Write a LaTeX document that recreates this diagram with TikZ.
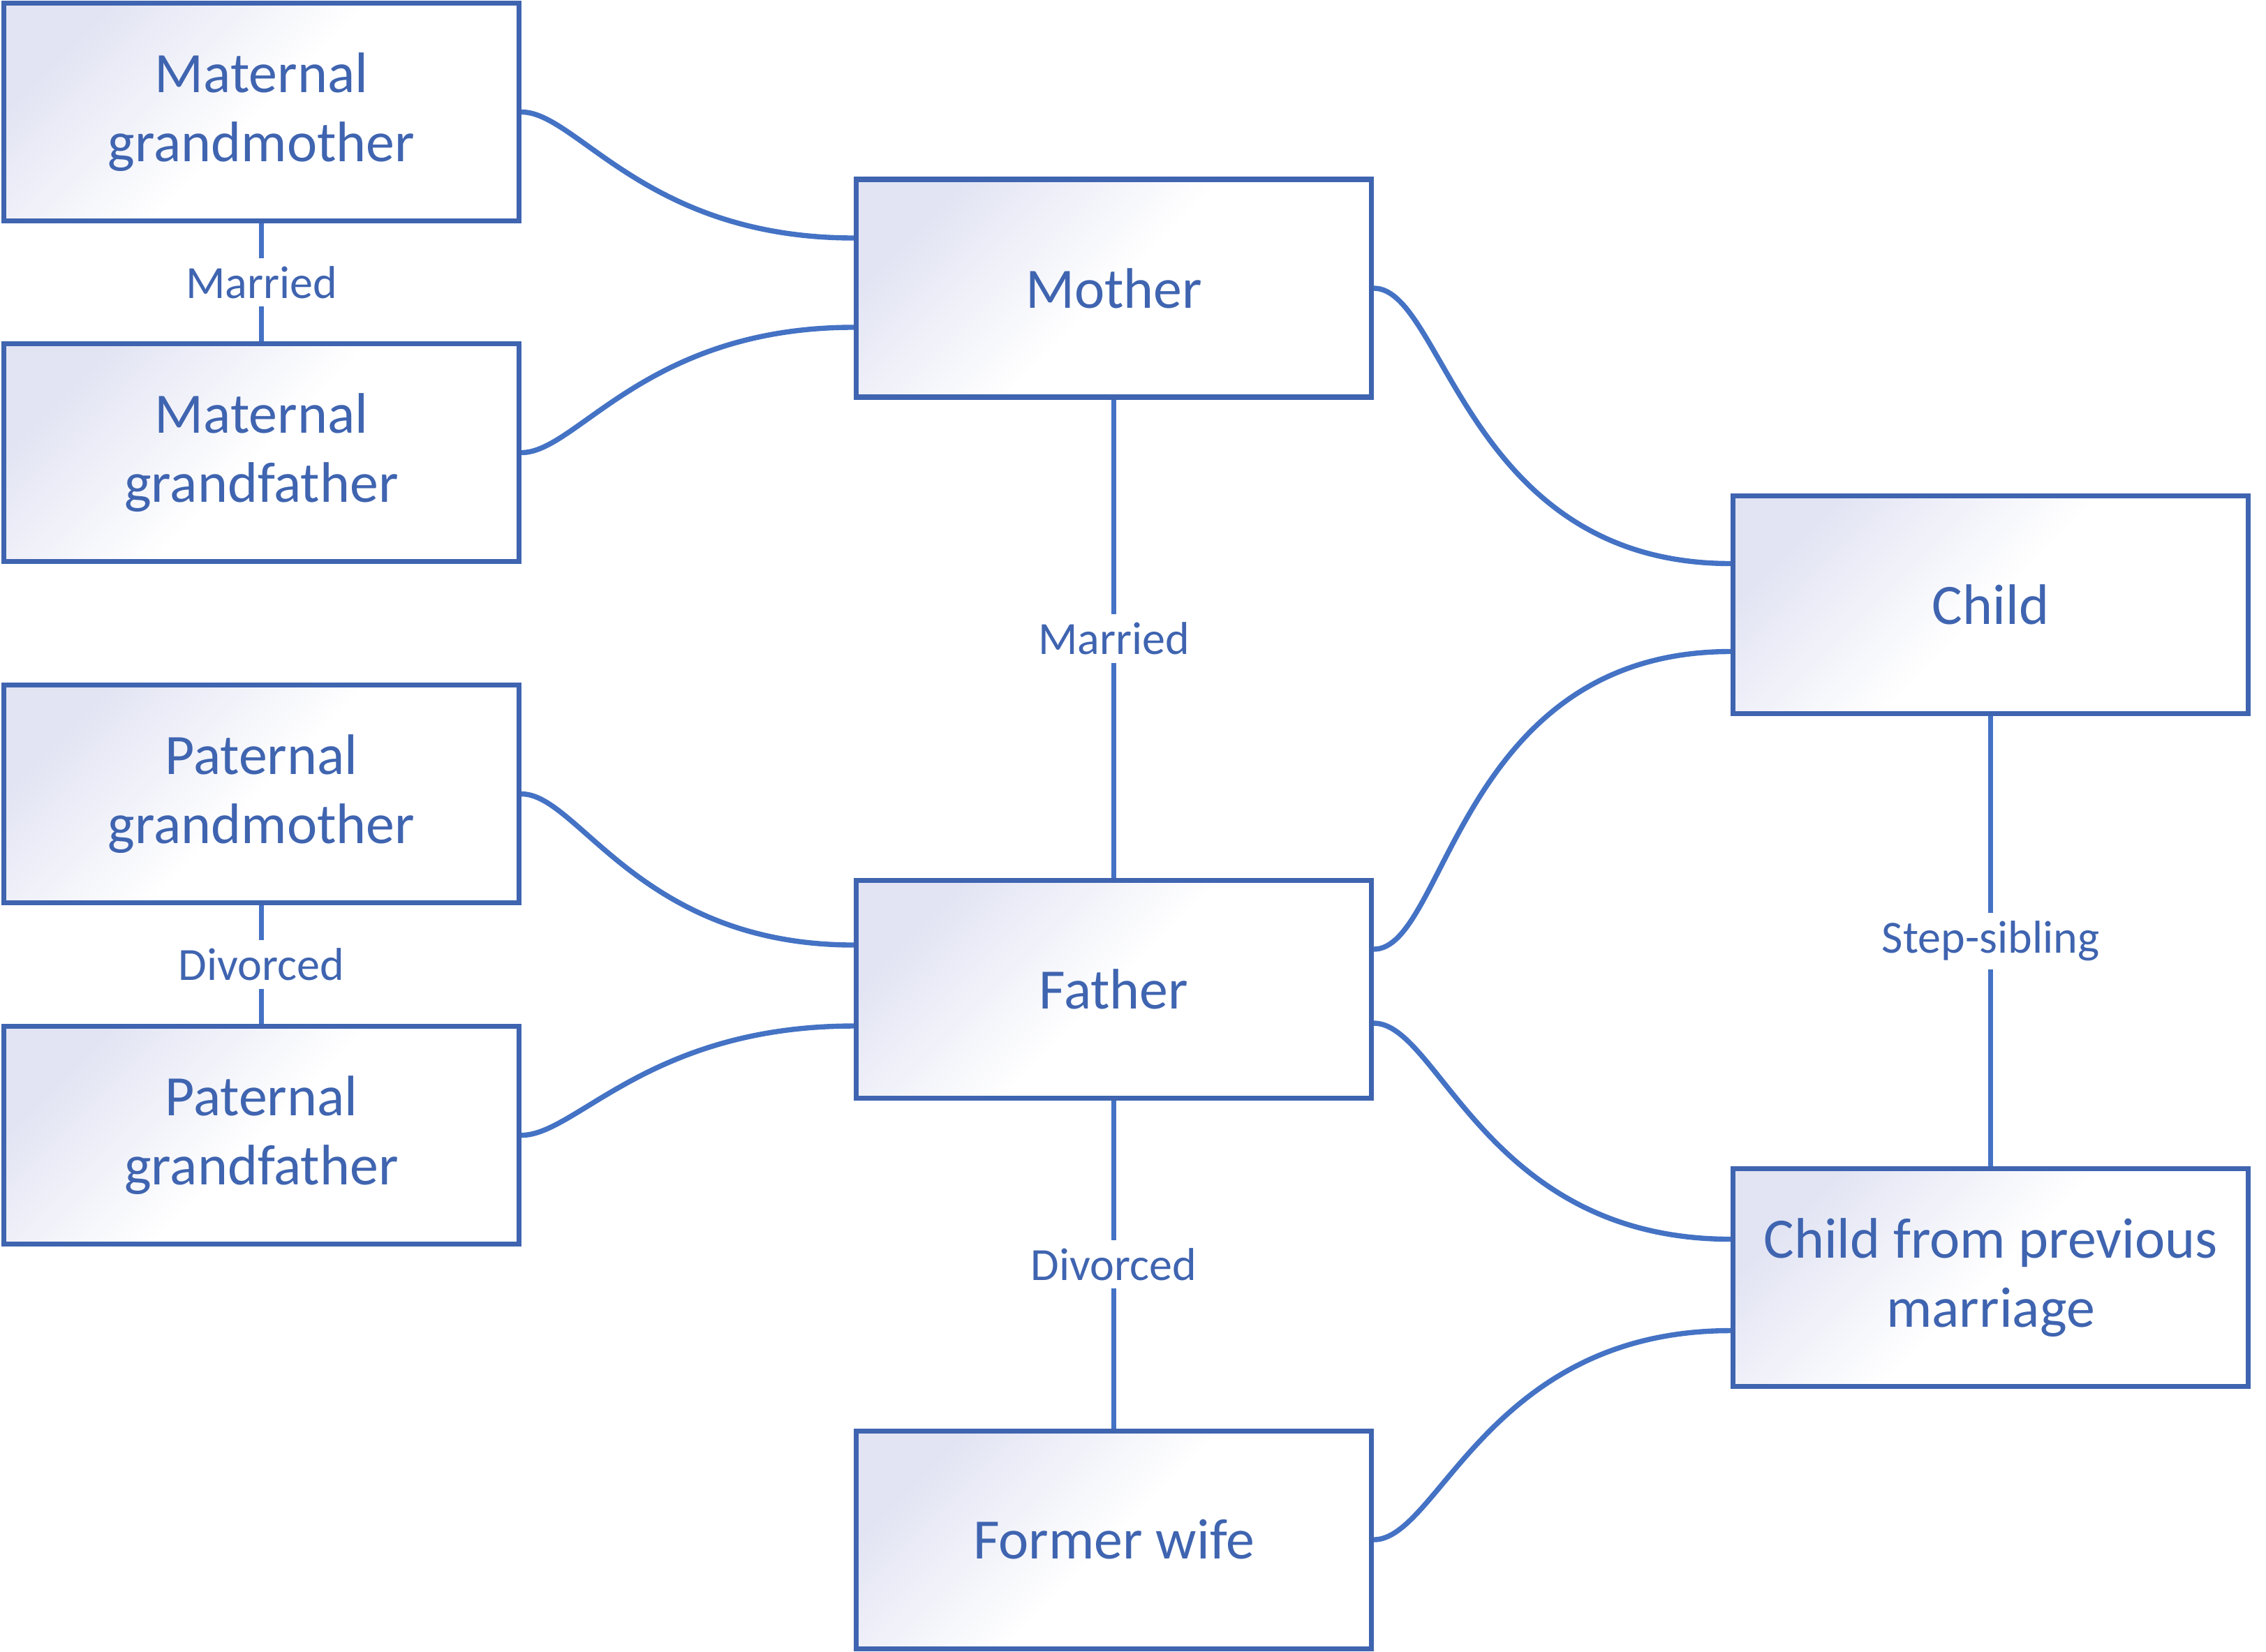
\documentclass[tikz,border=0pt]{standalone}
\usepackage{fontspec}
\setmainfont{Carlito}
\usepackage{xcolor}
\usepackage{tikz}
\usetikzlibrary{positioning}

\definecolor{boxblue}{RGB}{63,100,176}
\definecolor{lineblue}{RGB}{68,114,196}
\definecolor{boxtint}{RGB}{226,228,243}

\tikzset{
  person/.style={draw=boxblue,line width=2pt,
                 top color=boxtint,bottom color=white,middle color=white,
                 shading angle=45,
                 minimum width=7.38cm,minimum height=3.12cm,
                 align=center,text=boxblue,
                 font=\fontsize{23.3pt}{28.2pt}\selectfont},
  tie/.style={draw=lineblue,line width=2.1pt},
  bond/.style={tie,out=0,in=180,out looseness=0.4,in looseness=1.5},
  rel/.style={fill=white,text=boxblue,
              font=\fontsize{18.8pt}{22pt}\selectfont}
}

\begin{document}
\begin{tikzpicture}
        \useasboundingbox (0,0) rectangle (32.46,-23.67);

        \node[person] (mat_gm) at (3.745,-1.605) {Maternal\\grandmother};
        \node[person,below=1.69cm of mat_gm] (mat_gf) {Maternal\\grandfather};
        \draw[tie] (mat_gm) -- node[rel] {Married} (mat_gf);

        \node[person,below=1.70cm of mat_gf] (pat_gm) {Paternal\\grandmother};
        \node[person,below=1.70cm of pat_gm] (pat_gf) {Paternal\\grandfather};
        \draw[tie] (pat_gm) -- node[rel] {Divorced} (pat_gf);

        \node[person] (mother) at (15.955,-4.13) {Mother};
        \node[person,below=6.85cm of mother] (father) {Father};
        \draw[tie] (mother) -- node[rel] {Married} (father);

        \node[person,below=4.70cm of father] (former_wife) {Former wife};
        \draw[tie] (father) -- node[rel] {Divorced} (former_wife);

        \node[person] (child) at (28.515,-8.665) {Child};
        \node[person,below=6.45cm of child] (prev_child) {Child from previous\\marriage};
        \draw[tie] (child) -- node[rel] {Step-sibling} (prev_child);

        % grandparents to parents
        \draw[bond] (mat_gm.east) to ([yshift=0.72cm]mother.west);
        \draw[bond] (mat_gf.east) to ([yshift=-0.56cm]mother.west);
        \draw[bond] (pat_gm.east) to ([yshift=0.63cm]father.west);
        \draw[bond] (pat_gf.east) to ([yshift=-0.53cm]father.west);

        % parents to children
        \draw[bond] (mother.east) to ([yshift=0.59cm]child.west);
        \draw[bond] ([yshift=0.57cm]father.east) to ([yshift=-0.67cm]child.west);
        \draw[bond] ([yshift=-0.49cm]father.east) to ([yshift=0.55cm]prev_child.west);
        \draw[bond] (former_wife.east) to ([yshift=-0.76cm]prev_child.west);
    \end{tikzpicture}
\end{document}
